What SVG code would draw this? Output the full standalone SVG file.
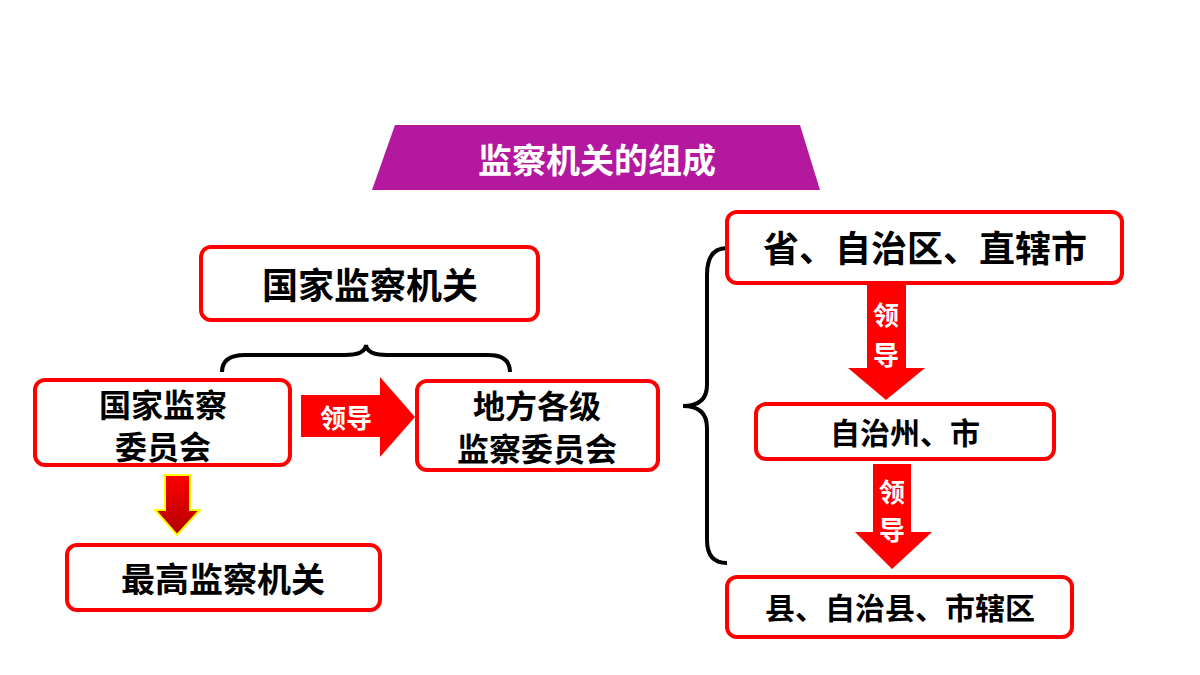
<svg xmlns="http://www.w3.org/2000/svg" width="1200" height="675" viewBox="0 0 1200 675">
<style>
.box{fill:#fff;stroke:#f00;stroke-width:4}
.t{font-family:"Noto Sans CJK SC",sans-serif;font-weight:bold;fill:#000;text-anchor:middle;dominant-baseline:central}
.w{font-family:"Noto Sans CJK SC",sans-serif;font-weight:bold;fill:#fff;text-anchor:middle;dominant-baseline:central}
.br{fill:none;stroke:#000;stroke-width:4}
</style>
<defs><linearGradient id="g" x1="0" y1="0" x2="0" y2="1"><stop offset="0" stop-color="#f00"/><stop offset="1" stop-color="#b00000"/></linearGradient></defs>
<rect width="1200" height="675" fill="#fff"/>
<g id="title"><polygon points="395,125 800,125 820,190 372,190" fill="#b3189f"/><text class="w" x="597" y="158" font-size="34">监察机关的组成</text></g>
<g id="connectors">
<path class="br" d="M222,372 Q222,355 245,355 L345,355 Q365,355 366,345 Q367,355 387,355 L488,355 Q510,355 510,372"/>
<path class="br" d="M727,248 Q707,248 707,275 L707,385 Q707,406 683,406 Q707,406 707,428 L707,540 Q707,563 727,563"/>
<polygon points="301,395 380,395 380,377 415,417 380,457 380,437 301,437" fill="#f00"/>
<text class="w" x="346" y="416" font-size="26">领导</text>
<polygon points="165,475 190,475 190,510 200,510 177,535 155,510 165,510" fill="url(#g)" stroke="#ff0" stroke-width="2"/>
<polygon points="867,283 906,283 906,368 925,368 886,400 848,368 867,368" fill="#f00"/>
<text class="w" x="886" y="313" font-size="26">领</text><text class="w" x="886" y="353" font-size="26">导</text>
<polygon points="873,464 911,464 911,532 932,532 892,569 855,532 873,532" fill="#f00"/>
<text class="w" x="892" y="490" font-size="26">领</text><text class="w" x="892" y="528" font-size="26">导</text>
</g>
<g id="n1"><rect class="box" x="201" y="247" width="337" height="73" rx="10"/><text class="t" x="370" y="283" font-size="36">国家监察机关</text></g>
<g id="n2"><rect class="box" x="35" y="380" width="255" height="85" rx="10"/><text class="t" x="163" y="403" font-size="32">国家监察</text><text class="t" x="163" y="445" font-size="32">委员会</text></g>
<g id="n3"><rect class="box" x="417" y="381" width="241" height="89" rx="10"/><text class="t" x="537" y="404" font-size="32">地方各级</text><text class="t" x="537" y="447" font-size="32">监察委员会</text></g>
<g id="n4"><rect class="box" x="67" y="545" width="313" height="65" rx="10"/><text class="t" x="223" y="577" font-size="34">最高监察机关</text></g>
<g id="n5"><rect class="box" x="727" y="212" width="395" height="71" rx="10"/><text class="t" x="925" y="246" font-size="36">省、自治区、直辖市</text></g>
<g id="n6"><rect class="box" x="756" y="404" width="298" height="55" rx="10"/><text class="t" x="905" y="431" font-size="30">自治州、市</text></g>
<g id="n7"><rect class="box" x="727" y="577" width="345" height="60" rx="10"/><text class="t" x="900" y="606" font-size="30">县、自治县、市辖区</text></g>
</svg>
